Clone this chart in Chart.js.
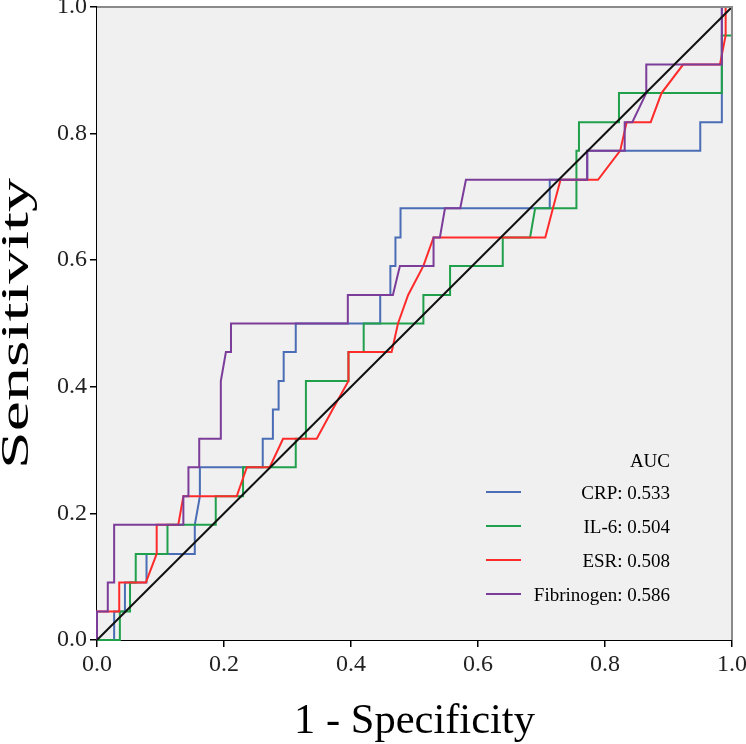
<!DOCTYPE html>
<html>
<head>
<meta charset="utf-8">
<title>ROC curves</title>
<script src="https://cdn.jsdelivr.net/npm/chart.js@4.4.1/dist/chart.umd.min.js"></script>
<style>
  html, body { margin: 0; padding: 0; background: #fff; }
  #wrap { width: 746px; height: 744px; }
</style>
</head>
<body>
<div id="wrap"><canvas id="rocChart"></canvas></div>
<script>
const seriesNames = ['CRP', 'IL-6', 'ESR', 'Fibrinogen'];
const aucValues   = ['0.533', '0.504', '0.508', '0.586'];
const lineColors  = ['#4a6db5', '#21a04c', '#ff2b2b', '#7b3d99'];
const tickValues  = [0, 0.2, 0.4, 0.6, 0.8, 1.0];

// 1 - specificity / sensitivity pairs
const crpX = [0, 0.027, 0.027, 0.044, 0.044, 0.078, 0.078, 0.154, 0.154, 0.162, 0.162, 0.261, 0.261, 0.277, 0.277, 0.286, 0.286, 0.294, 0.294, 0.313, 0.313, 0.446, 0.446, 0.462, 0.462, 0.470, 0.470, 0.478, 0.478, 0.713, 0.713, 0.772, 0.772, 0.950, 0.950, 0.984, 0.984, 1];
const crpY = [0, 0, 0.045, 0.045, 0.091, 0.091, 0.136, 0.136, 0.182, 0.227, 0.273, 0.273, 0.318, 0.318, 0.364, 0.364, 0.409, 0.409, 0.455, 0.455, 0.5, 0.5, 0.545, 0.545, 0.591, 0.591, 0.636, 0.636, 0.682, 0.682, 0.727, 0.727, 0.773, 0.773, 0.818, 0.818, 1, 1];

const il6X = [0, 0.036, 0.036, 0.052, 0.052, 0.061, 0.061, 0.111, 0.111, 0.187, 0.187, 0.230, 0.230, 0.313, 0.313, 0.329, 0.329, 0.396, 0.396, 0.420, 0.420, 0.514, 0.514, 0.556, 0.556, 0.639, 0.639, 0.682, 0.690, 0.755, 0.755, 0.759, 0.759, 0.822, 0.822, 0.984, 0.984, 1, 1];
const il6Y = [0, 0, 0.045, 0.045, 0.091, 0.091, 0.136, 0.136, 0.182, 0.182, 0.227, 0.227, 0.273, 0.273, 0.318, 0.318, 0.409, 0.409, 0.455, 0.455, 0.5, 0.5, 0.545, 0.545, 0.591, 0.591, 0.636, 0.636, 0.682, 0.682, 0.773, 0.773, 0.818, 0.818, 0.864, 0.864, 0.955, 0.955, 1];

const esrX = [0, 0, 0.035, 0.035, 0.077, 0.094, 0.094, 0.128, 0.136, 0.220, 0.236, 0.272, 0.293, 0.346, 0.371, 0.396, 0.396, 0.464, 0.474, 0.490, 0.514, 0.530, 0.706, 0.718, 0.730, 0.789, 0.824, 0.834, 0.872, 0.889, 0.923, 0.981, 0.990, 0.990, 1];
const esrY = [0, 0.045, 0.045, 0.091, 0.091, 0.136, 0.182, 0.182, 0.227, 0.227, 0.273, 0.273, 0.318, 0.318, 0.364, 0.409, 0.455, 0.455, 0.5, 0.545, 0.591, 0.636, 0.636, 0.682, 0.727, 0.727, 0.773, 0.818, 0.818, 0.864, 0.909, 0.909, 0.955, 1, 1];

const fibX = [0, 0, 0.017, 0.017, 0.027, 0.027, 0.136, 0.136, 0.144, 0.144, 0.161, 0.161, 0.195, 0.195, 0.203, 0.211, 0.211, 0.395, 0.395, 0.466, 0.477, 0.530, 0.530, 0.540, 0.548, 0.572, 0.581, 0.772, 0.772, 0.831, 0.831, 0.843, 0.865, 0.865, 0.984, 0.984, 1];
const fibY = [0, 0.045, 0.045, 0.091, 0.091, 0.182, 0.182, 0.227, 0.227, 0.273, 0.273, 0.318, 0.318, 0.409, 0.455, 0.455, 0.5, 0.5, 0.545, 0.545, 0.591, 0.591, 0.636, 0.636, 0.682, 0.682, 0.727, 0.727, 0.773, 0.773, 0.818, 0.818, 0.864, 0.909, 0.909, 1, 1];

const refX = [0, 1];
const refY = [0, 1];

const SERIF = '"Liberation Serif", "Times New Roman", serif';

function toPoints(xs, ys) {
  return xs.map((x, i) => ({ x, y: ys[i] }));
}

function rocDataset(label, xs, ys, color) {
  return {
    label,
    data: toPoints(xs, ys),
    borderColor: color,
    borderWidth: 2,
    pointRadius: 0,
    tension: 0,
    fill: false,
    clip: 3,
  };
}

// grey plot panel behind the curves, grey frame on top/right
const plotPanel = {
  id: 'plotPanel',
  beforeDatasetsDraw(chart) {
    const { ctx, chartArea: a } = chart;
    ctx.save();
    ctx.fillStyle = '#f0f0f0';
    ctx.fillRect(a.left, a.top, a.right - a.left, a.bottom - a.top);
    ctx.restore();
  },
  afterDraw(chart) {
    const { ctx, chartArea: a } = chart;
    ctx.save();
    ctx.strokeStyle = '#8a8a8a';
    ctx.lineWidth = 2;
    ctx.beginPath();
    ctx.moveTo(a.left, a.top);
    ctx.lineTo(a.right, a.top);
    ctx.lineTo(a.right, a.bottom);
    ctx.stroke();
    ctx.restore();
  }
};

// y title is drawn long and narrow like the exported SPSS figure
const yTitle = {
  id: 'yTitle',
  afterDraw(chart) {
    const { ctx, chartArea: a } = chart;
    ctx.save();
    ctx.translate(28, (a.top + a.bottom) / 2);
    ctx.rotate(-Math.PI / 2);
    ctx.scale(1.7, 1);
    ctx.font = `40px ${SERIF}`;
    ctx.fillStyle = '#000';
    ctx.textAlign = 'center';
    ctx.textBaseline = 'alphabetic';
    ctx.fillText('Sensitivity', 0, 0);
    ctx.restore();
  }
};

// SPSS-style AUC key in the lower right of the panel
const aucLegend = {
  id: 'aucLegend',
  afterDatasetsDraw(chart) {
    const { ctx, chartArea: a } = chart;
    const textRight = a.right - 62;
    const lineLeft  = a.right - 246;
    const lineRight = a.right - 211;
    const headY     = a.bottom - 178;

    ctx.save();
    ctx.font = `19px ${SERIF}`;
    ctx.fillStyle = '#000';
    ctx.textAlign = 'right';
    ctx.textBaseline = 'middle';
    ctx.fillText('AUC', textRight, headY);

    seriesNames.forEach((name, i) => {
      const y = headY + 30 + i * 34;
      ctx.strokeStyle = lineColors[i];
      ctx.lineWidth = 2;
      ctx.beginPath();
      ctx.moveTo(lineLeft, y);
      ctx.lineTo(lineRight, y);
      ctx.stroke();
      ctx.fillText(`${name}: ${aucValues[i]}`, textRight, y + 2);
    });
    ctx.restore();
  }
};

function axisOptions(titleText, isX) {
  return {
    type: 'linear',
    min: 0,
    max: 1,
    afterBuildTicks: scale => { scale.ticks = tickValues.map(v => ({ value: v })); },
    afterFit: scale => {
      if (isX) scale.height = 104; else scale.width = 97;
      scale.paddingLeft = 0;
      scale.paddingRight = 0;
      scale.paddingTop = 0;
      scale.paddingBottom = 0;
    },
    ticks: {
      callback: v => Number(v).toFixed(1),
      font: { family: SERIF, size: 24 },
      color: '#222',
      padding: 3,
      maxRotation: 0,
      autoSkip: false,
    },
    grid: {
      drawOnChartArea: false,
      drawTicks: true,
      tickLength: 7,
      color: '#000',
      lineWidth: 1.5,
    },
    border: { color: '#000', width: 2 },
    title: {
      display: isX,
      text: titleText,
      font: { family: SERIF, size: 42.5, lineHeight: 1.05 },
      color: '#000',
      padding: 0,
    }
  };
}

const datasets = [
  {
    label: 'Reference',
    data: toPoints(refX, refY),
    borderColor: '#111',
    borderWidth: 2,
    pointRadius: 0,
    fill: false,
    clip: 3,
  },
  rocDataset(seriesNames[3], fibX, fibY, lineColors[3]),
  rocDataset(seriesNames[2], esrX, esrY, lineColors[2]),
  rocDataset(seriesNames[1], il6X, il6Y, lineColors[1]),
  rocDataset(seriesNames[0], crpX, crpY, lineColors[0]),
];

new Chart(document.getElementById('rocChart'), {
  type: 'line',
  data: { datasets },
  options: {
    responsive: true,
    maintainAspectRatio: false,
    animation: false,
    layout: { padding: { top: 7, right: 14, left: 0, bottom: 0 } },
    plugins: {
      legend: { display: false },
      tooltip: { enabled: false },
    },
    scales: {
      x: axisOptions('1 - Specificity', true),
      y: axisOptions('Sensitivity', false),
    }
  },
  plugins: [plotPanel, aucLegend, yTitle]
});
</script>
</body>
</html>
